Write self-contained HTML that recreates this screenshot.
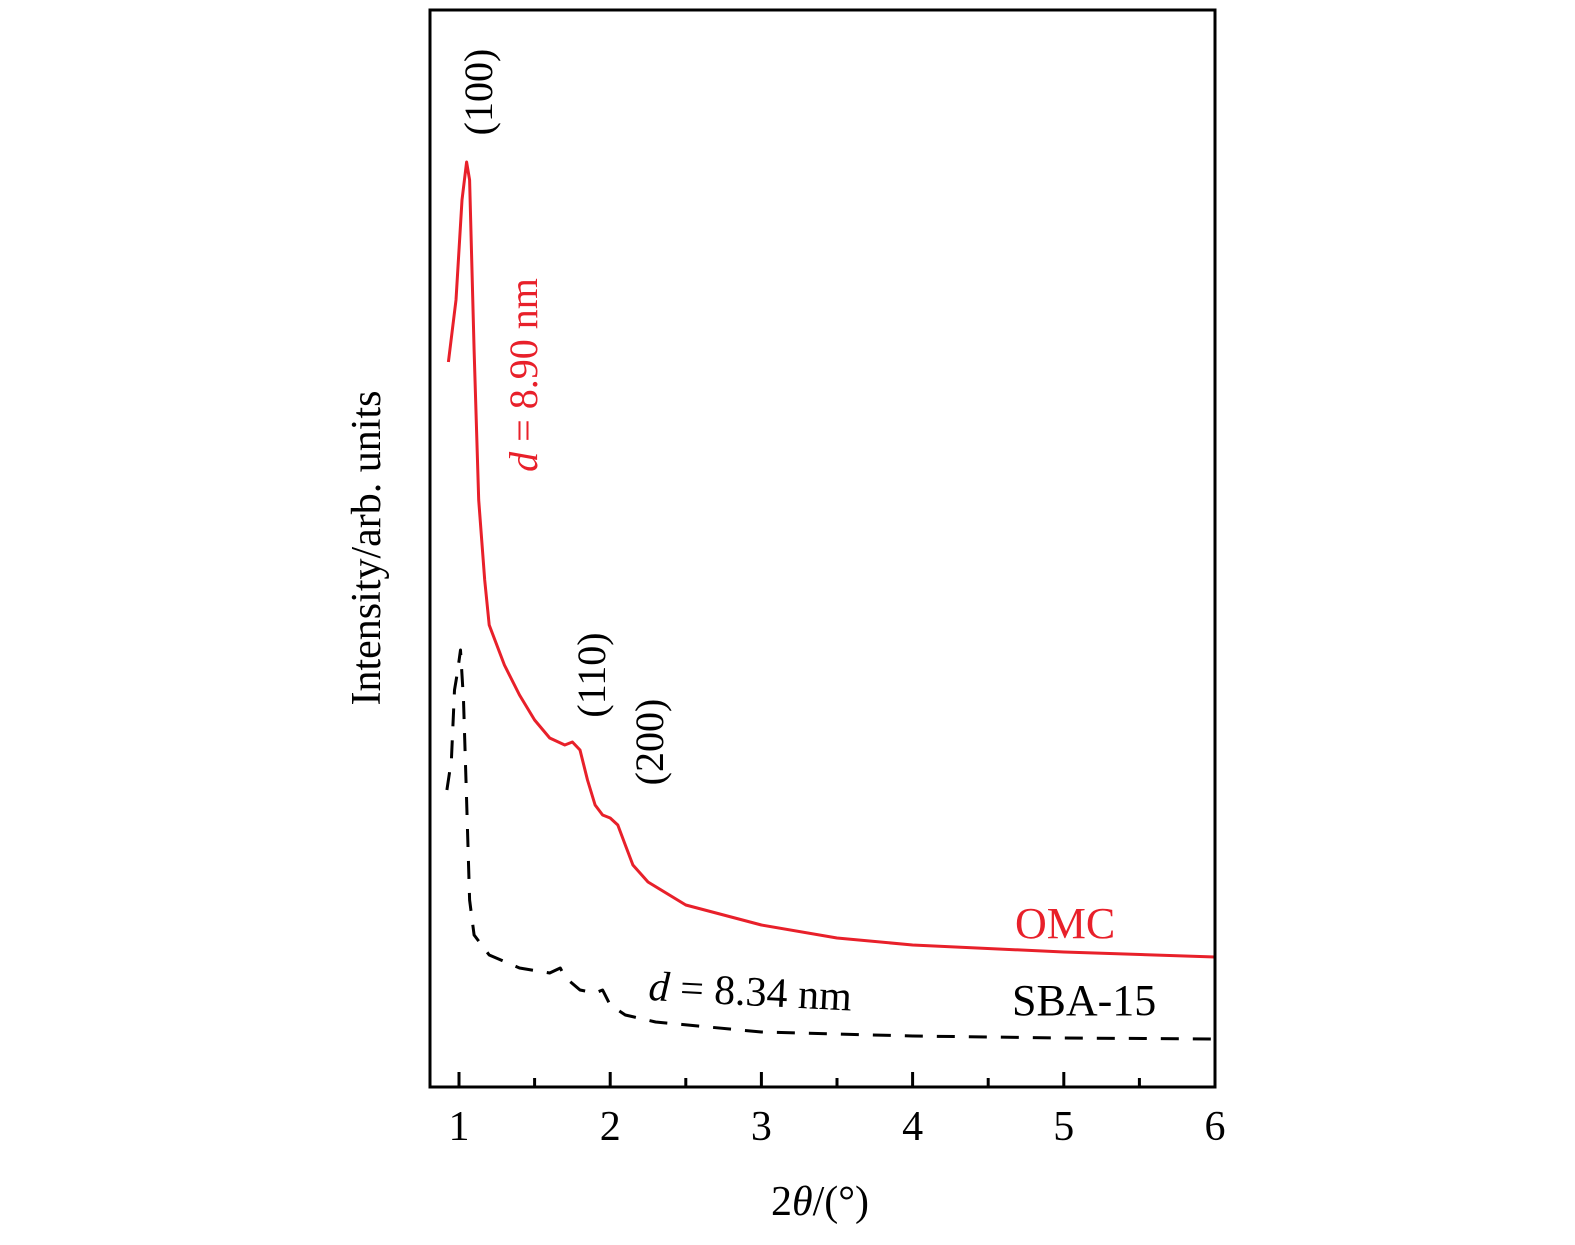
<!DOCTYPE html>
<html><head><meta charset="utf-8"><style>
html,body{margin:0;padding:0;background:#fff;}
svg text{font-family:"Liberation Serif",serif;}
</style></head><body>
<svg id="chart" width="1575" height="1240" viewBox="0 0 1575 1240" xmlns="http://www.w3.org/2000/svg">
<g id="plot"></g>
<rect x="430" y="10" width="785" height="1077" fill="none" stroke="#000" stroke-width="3"/>
<text x="0" y="0" transform="translate(380,548) rotate(-90)" font-size="42" text-anchor="middle">Intensity/arb. units</text>
<text x="820" y="1215" font-size="42" text-anchor="middle">2<tspan font-style="italic">θ</tspan>/(°)</text>
<text transform="translate(492,92) rotate(-90)" font-size="40" text-anchor="middle">(100)</text>
<text transform="translate(537,375) rotate(-90)" font-size="40" text-anchor="middle" fill="#e8202a"><tspan font-style="italic">d</tspan> = 8.90 nm</text>
<text transform="translate(605,675) rotate(-90)" font-size="40" text-anchor="middle">(110)</text>
<text transform="translate(663,742) rotate(-90)" font-size="40" text-anchor="middle">(200)</text>
<text x="1015" y="938" font-size="44" fill="#e8202a">OMC</text>
<text x="1012" y="1015" font-size="44">SBA-15</text>
<text transform="translate(648,1000) rotate(3)" font-size="42"><tspan font-style="italic">d</tspan> = 8.34 nm</text>
<g id="axis"></g>
<script>
const xTicks=[1,2,3,4,5,6];
const xMinor=[1.5,2.5,3.5,4.5,5.5];
const omcX=[0.93,0.98,1.02,1.05,1.07,1.1,1.13,1.17,1.2,1.3,1.4,1.5,1.6,1.7,1.75,1.8,1.85,1.9,1.95,2.0,2.05,2.1,2.15,2.25,2.5,3.0,3.5,4.0,5.0,6.0];
const omcY=[72.5,78.7,88.7,92.5,90.7,73.7,58.7,50.7,46.2,42.2,39.2,36.7,34.9,34.2,34.5,33.7,30.7,28.2,27.2,26.9,26.2,24.2,22.2,20.5,18.2,16.2,14.9,14.2,13.5,13.0];
const sbaX=[0.92,0.95,0.97,0.99,1.01,1.03,1.05,1.07,1.1,1.2,1.4,1.6,1.67,1.7,1.8,1.9,1.95,2.0,2.1,2.3,3.0,4.0,5.0,6.0];
const sbaY=[29.7,32.7,39.7,41.5,43.7,38.7,28.7,18.7,15.2,13.2,11.9,11.4,11.9,11.0,9.7,9.4,9.7,8.2,7.2,6.5,5.5,5.1,4.9,4.8];
const NS="http://www.w3.org/2000/svg";
const sx=v=>459+(v-1)*151.2;
const sy=v=>1087-v*10;
const plot=document.getElementById('plot');
function line(xs,ys,color,dash,name){
  const p=document.createElementNS(NS,'path');
  p.setAttribute('d',xs.map((x,i)=>(i?'L':'M')+sx(x).toFixed(1)+' '+sy(ys[i]).toFixed(1)).join(''));
  p.setAttribute('fill','none');p.setAttribute('stroke',color);p.setAttribute('stroke-width','3');
  p.setAttribute('stroke-linejoin','round');
  if(dash)p.setAttribute('stroke-dasharray',dash);
  
  
  plot.appendChild(p);
}
line(sbaX,sbaY,'#000','18,14','sba15-line');
line(omcX,omcY,'#e8202a',null,'omc-line');
const axis=document.getElementById('axis');
xTicks.forEach(t=>{
  const l=document.createElementNS(NS,'line');
  l.setAttribute('x1',sx(t));l.setAttribute('x2',sx(t));l.setAttribute('y1',1087);l.setAttribute('y2',1072);
  l.setAttribute('stroke','#000');l.setAttribute('stroke-width','3');
  
  
  axis.appendChild(l);
  const tx=document.createElementNS(NS,'text');
  tx.setAttribute('x',sx(t));tx.setAttribute('y',1140);tx.setAttribute('font-size','42');tx.setAttribute('text-anchor','middle');
  tx.textContent=t;
  
  
  axis.appendChild(tx);
});
xMinor.forEach(t=>{
  const l=document.createElementNS(NS,'line');
  l.setAttribute('x1',sx(t));l.setAttribute('x2',sx(t));l.setAttribute('y1',1087);l.setAttribute('y2',1078);
  l.setAttribute('stroke','#000');l.setAttribute('stroke-width','3');
  
  
  axis.appendChild(l);
});
</script>
</svg>
</body></html>
